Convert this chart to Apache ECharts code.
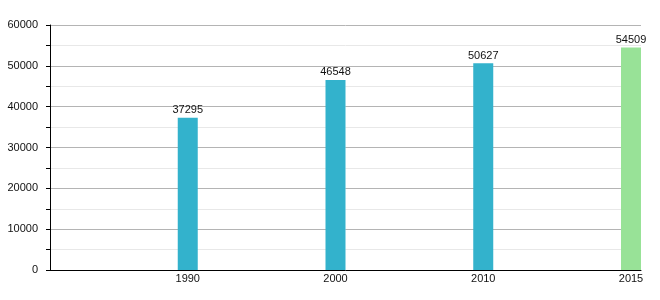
<!DOCTYPE html>
<html><head><meta charset="utf-8">
<script src="https://cdn.jsdelivr.net/npm/echarts@6/dist/echarts.min.js"></script>
<style>html,body{margin:0;padding:0;background:#fff}#c{width:660px;height:300px}</style>
</head><body><div id="c"></div>
<script>
const categories = ['1990', '2000', '2010', '2015'];
const values = [37295, 46548, 50627, 54509];
const barColors = ['#33b2cc', '#33b2cc', '#33b2cc', '#98e297'];
const yTicks = [0, 10000, 20000, 30000, 40000, 50000, 60000];

const chart = echarts.init(document.getElementById('c'), null, {renderer: 'canvas'});
const font = 'Liberation Sans, Arial, sans-serif';
chart.setOption({
  animation: false,
  grid: {left: 50, right: 19, top: 25, bottom: 30, containLabel: false},
  xAxis: {
    type: 'category', data: categories,
    axisLine: {lineStyle: {color: '#000', width: 1}},
    axisTick: {show: false},
    axisLabel: {show: false},
    splitLine: {show: false}
  },
  yAxis: {
    type: 'value', min: yTicks[0], max: yTicks[yTicks.length - 1], interval: 10000,
    axisLine: {show: true, lineStyle: {color: '#000', width: 1}},
    axisTick: {show: true, length: 4, lineStyle: {color: '#000'}},
    minorTick: {show: true, splitNumber: 2, length: 4, lineStyle: {color: '#000'}},
    axisLabel: {margin: 12, color: '#111', fontSize: 11, fontFamily: font, formatter: v => String(v)},
    splitLine: {show: true, lineStyle: {color: '#b4b4b4', width: 1}},
    minorSplitLine: {show: true, lineStyle: {color: '#e8e8e8', width: 1}}
  },
  series: [
    {
      type: 'bar', name: 'spacer', data: categories.map(() => 0), barWidth: '86.46%',
      barGap: '0%', barCategoryGap: '0%', silent: true, itemStyle: {color: 'transparent'}
    },
    {
      type: 'bar', name: 'years', stack: 's', barWidth: 20, barGap: '0%', barCategoryGap: '0%',
      data: categories.map(() => 0),
      itemStyle: {color: 'transparent'},
      label: {show: true, position: 'bottom', distance: 3, color: '#111', fontSize: 11, fontFamily: font,
        formatter: p => p.name}
    },
    {
      type: 'bar', name: 'values', stack: 's', barWidth: 20, barGap: '0%', barCategoryGap: '0%',
      data: values.map((v, i) => ({value: v, itemStyle: {color: barColors[i]}})),
      label: {show: true, position: 'top', distance: 2, color: '#111', fontSize: 11, fontFamily: font}
    }
  ]
});
</script></body></html>
